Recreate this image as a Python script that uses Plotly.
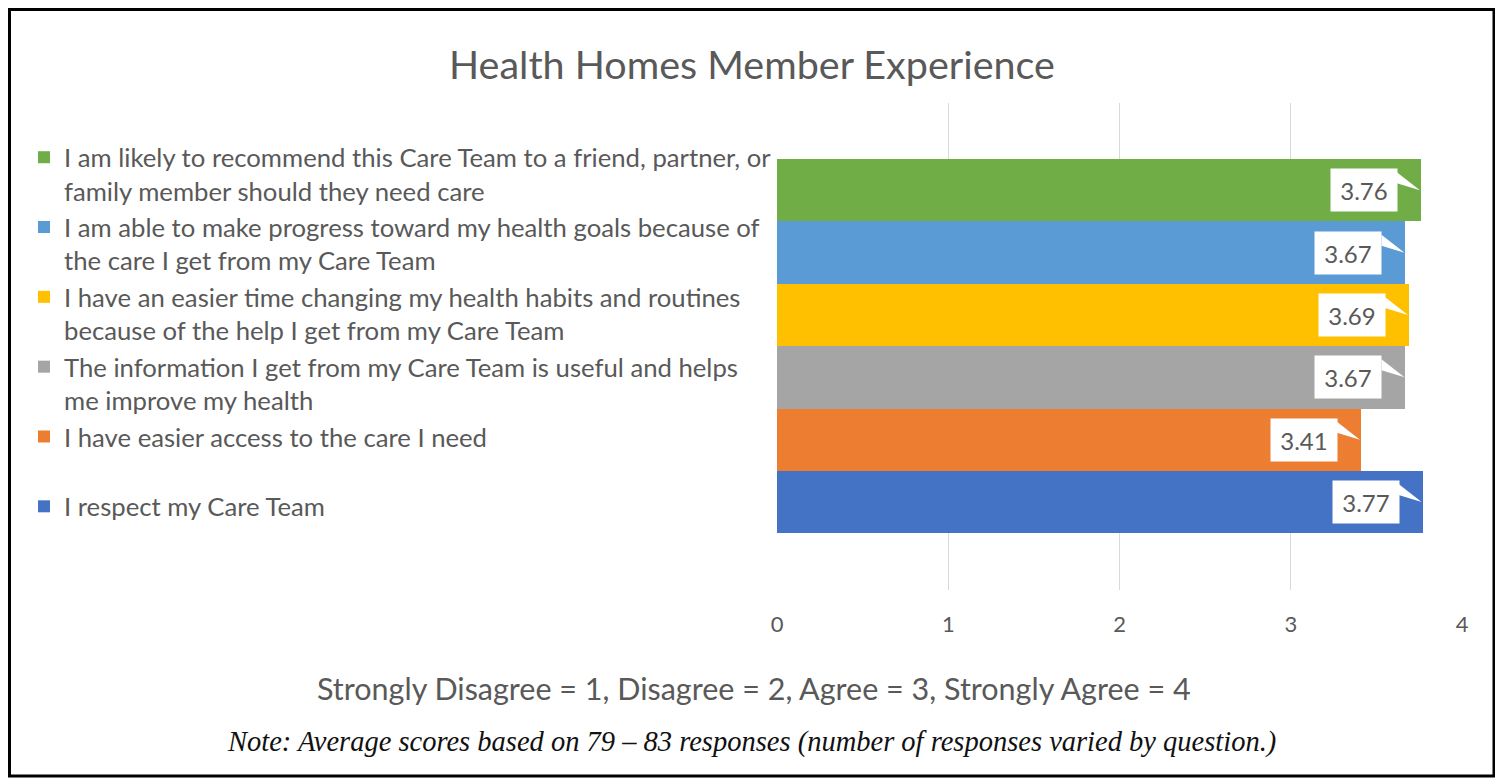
"""Health Homes member experience: horizontal bar chart with Office-style labels."""
import plotly.graph_objects as go

# the page body adds an 8px margin, so work in reference pixels and shift
OFF = 8
W, H = 1503 - OFF, 784 - OFF
# plot area in reference pixels
PL, PR, PT, PB = 777, 1462, 103, 590

questions = [
    "I am likely to recommend this Care Team to a friend, partner, or<br>family member should they need care",
    "I am able to make progress toward my health goals because of<br>the care I get from my Care Team",
    "I have an easier time changing my health habits and routines<br>because of the help I get from my Care Team",
    "The information I get from my Care Team is useful and helps<br>me improve my health",
    "I have easier access to the care I need<br> ",
    "I respect my Care Team<br> ",
]
scores = [3.76, 3.67, 3.69, 3.67, 3.41, 3.77]
colors = ["#70AD47", "#5B9BD5", "#FFC000", "#A5A5A5", "#ED7D31", "#4472C4"]
x_ticks = [0, 1, 2, 3, 4]

TEXT = "#595959"
FONT = "Lato"


def px_x(v):
    return (v - PL) / (PR - PL)


def px_y(v):
    return (PB - v) / (PB - PT)


fig = go.Figure()
for i, (q, s, c) in enumerate(zip(questions, scores, colors)):
    fig.add_trace(go.Bar(
        x=[s], y=[q], name=q, orientation="h",
        marker=dict(color=c, line=dict(width=0)),
        width=1, legendgroup=f"g{i}", hoverinfo="x",
    ))

# white callout boxes with a little tail pointing at the bar end
for q, s in zip(questions, scores):
    fig.add_annotation(
        x=s, y=q, xref="x", yref="y", text=f"{s:.2f}", showarrow=False,
        xanchor="right", xshift=-23, width=66, height=42, borderpad=0,
        bgcolor="white", font=dict(family=FONT, size=24, color=TEXT),
    )
    fig.add_shape(
        type="path", xref="x", yref="y", xsizemode="pixel", ysizemode="pixel",
        xanchor=s, yanchor=q, path="M-24,18 L-24,7 L-1,0 Z",
        fillcolor="white", line=dict(width=0),
    )

fig.add_annotation(
    text="Strongly Disagree = 1, Disagree = 2, Agree = 3, Strongly Agree = 4",
    xref="paper", yref="paper", x=px_x(754), y=px_y(688), showarrow=False,
    xanchor="center", yanchor="middle",
    font=dict(family=FONT, size=30.5, color=TEXT),
)
fig.add_annotation(
    text="<i>Note: Average scores based on 79 \u2013 83 responses (number of responses varied by question.)</i>",
    xref="paper", yref="paper", x=px_x(751), y=px_y(742), showarrow=False,
    xanchor="center", yanchor="middle",
    font=dict(family="Liberation Serif", size=28.5, color="#111111"),
)

# outer frame
fig.add_shape(
    type="rect", xref="paper", yref="paper",
    x0=px_x(OFF + 1.5), x1=px_x(1494), y0=px_y(776), y1=px_y(OFF + 1.5),
    line=dict(color="black", width=3), fillcolor="rgba(0,0,0,0)", layer="below",
)

fig.update_layout(
    width=W, height=H,
    margin=dict(l=PL - OFF, r=W - (PR - OFF), t=PT - OFF, b=H - (PB - OFF), pad=0),
    paper_bgcolor="white", plot_bgcolor="white",
    barmode="overlay", bargap=0,
    title=dict(
        text="Health Homes Member Experience", x=(752 - OFF) / W, xanchor="center",
        y=1 - (65 - OFF) / H, yanchor="middle", xref="container", yref="container",
        font=dict(family=FONT, size=39.5, color=TEXT),
    ),
    font=dict(family=FONT, color=TEXT),
    showlegend=True,
    legend=dict(
        x=px_x(24), y=px_y(134), xanchor="left", yanchor="top",
        traceorder="normal", valign="top", tracegroupgap=0,
        font=dict(family=FONT, size=25.7, color=TEXT),
        bgcolor="rgba(0,0,0,0)", itemclick=False, itemdoubleclick=False,
    ),
    xaxis=dict(
        range=[0, 4], tickvals=x_ticks, showgrid=True, gridcolor="#D9D9D9",
        gridwidth=1, zeroline=False, showline=False, ticks="",
        ticklabelstandoff=19, tickfont=dict(family=FONT, size=22, color=TEXT),
        fixedrange=True,
    ),
    yaxis=dict(
        type="category", categoryorder="array",
        categoryarray=list(reversed(questions)),
        range=[-1.41, 6.4], showticklabels=False, showgrid=False,
        zeroline=False, showline=False, ticks="", fixedrange=True,
    ),
)

fig.write_html("out.html")
